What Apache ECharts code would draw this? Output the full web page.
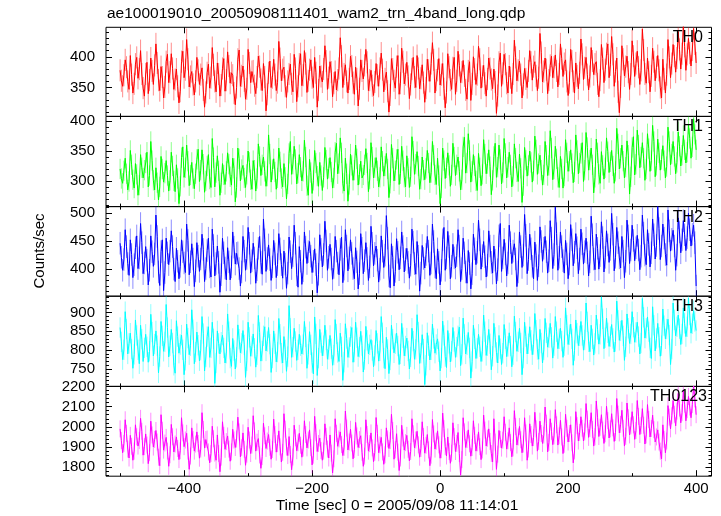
<!DOCTYPE html>
<html><head><meta charset="utf-8">
<script src="https://cdn.jsdelivr.net/npm/echarts@6/dist/echarts.min.js"></script>
<style>html,body{margin:0;padding:0;background:#fff}#c{width:721px;height:516px}</style>
</head><body><div id="c"></div>
<script>
const chartTitle = 'ae100019010_20050908111401_wam2_trn_4band_long.qdp';
const xTitle = 'Time [sec] 0 = 2005/09/08 11:14:01';
const yTitle = 'Counts/sec';
const bandNames = ['TH0', 'TH1', 'TH2', 'TH3', 'TH0123'];
const tStart = -500, tStep = 2;
const xRange = [-522, 424];
const xMajorTicks = [-400, -200, 0, 200, 400];
const xMinorTicks = [-500, -300, -100, 100, 300];
const yRanges = [[303, 448], [257, 408], [352, 511], [704, 943], [1756, 2200]];
const yMajorTicks = [[350, 400], [300, 350, 400], [400, 450, 500], [750, 800, 850, 900], [1800, 1900, 2000, 2100, 2200]];
const yMinorStep = [10, 10, 10, 10, 20];
const bandErrors = [18, 17, 20, 27, 42];

const th0 = [
378,361,352,370,395,383,360,347,402,371,341,356,388,399,365,380,410,372,349,336,
372,391,340,362,398,377,355,386,421,390,362,345,384,367,333,351,392,404,358,375,
405,381,347,363,380,352,325,344,392,409,366,379,428,396,351,368,376,355,338,360,
399,378,355,371,382,346,318,342,374,388,349,366,415,387,360,343,390,372,336,354,
381,397,344,362,408,385,357,374,370,341,322,350,396,411,352,369,385,361,331,348,
412,390,358,376,377,353,340,367,401,384,363,345,389,367,312,339,374,393,350,366,
396,371,345,358,425,397,361,379,383,352,334,360,372,388,356,343,404,381,327,352,
388,405,353,370,410,389,342,361,379,395,366,350,399,374,318,346,385,368,359,380,
418,393,347,366,392,375,335,357,376,346,362,381,431,401,350,372,387,360,341,364,
401,385,358,339,383,364,320,348,395,377,364,386,412,391,345,362,378,353,337,359,
389,370,352,381,406,379,343,364,375,344,310,338,397,380,361,349,384,402,339,357,
414,392,356,371,391,368,332,355,380,399,367,350,402,381,348,365,387,358,326,349,
396,378,360,389,423,395,341,362,378,397,354,371,389,348,317,342,405,383,362,347,
382,399,339,361,409,386,358,375,394,369,346,331,377,392,329,356,400,380,355,371,
417,396,349,368,386,357,336,364,398,381,363,348,380,359,308,337,391,406,352,373,
404,388,357,341,385,366,340,372,427,399,361,378,393,371,333,355,381,364,350,377,
410,391,362,384,392,369,345,366,438,407,359,376,398,379,340,362,386,401,366,383,
403,377,351,372,421,397,368,389,395,360,337,358,412,393,360,341,390,369,348,374,
429,404,363,382,399,371,346,368,415,393,371,388,392,356,335,362,420,397,358,379,
405,421,366,387,433,404,352,376,398,343,309,351,418,396,369,384,401,375,347,372,
426,401,368,389,409,383,355,378,445,411,372,357,398,375,343,369,414,392,361,383,
402,378,350,333,396,364,341,371,428,399,366,389,420,401,375,398,441,412,380,405,
452,417,378,404,430,406,385,411,446,421,390];

const th1 = [
320,304,296,317,338,312,285,299,351,327,302,288,329,311,276,293,344,322,305,318,
330,348,290,309,366,334,301,285,322,297,268,290,341,320,298,313,334,309,283,301,
348,325,300,282,327,304,262,291,339,357,306,322,360,333,292,310,331,304,287,312,
336,353,299,318,352,328,281,300,325,344,303,289,371,339,290,314,342,317,276,297,
329,310,294,316,347,328,307,293,338,321,265,289,355,337,300,319,326,305,289,311,
350,331,302,286,334,318,283,304,362,341,309,327,340,316,291,308,377,345,298,319,
337,315,286,305,355,332,304,290,329,306,270,295,346,366,311,328,358,336,295,313,
344,323,300,316,368,340,292,276,336,314,279,301,351,330,308,291,331,309,284,306,
356,335,303,321,339,315,288,305,348,363,312,329,372,347,296,283,338,312,266,294,
345,326,301,318,360,337,293,311,333,305,310,327,354,330,282,303,364,340,305,322,
339,317,290,306,357,333,308,325,346,320,272,296,361,338,300,317,336,353,294,312,
358,334,306,290,342,321,289,307,374,350,311,328,349,325,286,303,340,318,302,321,
351,330,297,314,366,343,310,294,338,309,262,288,355,334,304,322,347,326,291,310,
363,340,309,327,340,316,285,302,357,373,313,330,379,351,298,316,344,325,300,284,
346,322,292,311,369,345,312,329,352,324,277,301,341,363,306,323,360,336,295,314,
371,346,305,323,348,327,290,308,362,338,315,299,345,321,264,292,356,335,308,326,
350,331,298,317,375,352,311,329,343,318,293,310,366,343,309,326,384,355,302,320,
358,337,306,289,341,320,288,308,369,347,316,333,352,329,297,315,377,351,312,330,
346,364,299,318,381,356,318,335,355,327,280,306,370,347,311,296,349,326,303,322,
372,349,314,332,351,325,296,316,388,362,320,338,360,333,305,323,367,343,278,307,
356,374,310,328,385,360,322,340,364,338,301,320,379,354,316,334,393,366,307,326,
370,347,318,336,359,334,305,324,390,366,327,345,366,341,312,331,382,358,325,343,
376,352,330,348,395,371,338,357,404,378,352];

const th2 = [
446,421,398,417,470,440,410,389,452,426,385,408,438,459,401,420,481,447,392,411,
440,416,372,398,459,431,405,427,496,458,395,371,431,452,362,394,455,429,408,432,
468,440,400,378,437,414,383,405,452,431,411,394,480,451,390,413,445,418,369,397,
447,423,396,418,462,435,378,401,433,455,404,386,471,442,388,410,441,412,359,390,
455,429,402,381,438,413,381,404,466,439,409,428,429,401,370,395,458,432,398,419,
474,446,393,415,446,420,375,399,437,458,412,391,489,452,396,419,443,417,380,404,
451,427,385,408,463,436,408,384,432,409,366,393,457,431,401,424,478,446,390,368,
440,414,373,397,466,439,410,431,449,423,394,414,436,408,358,391,461,435,404,426,
485,450,398,421,444,418,382,403,458,432,411,390,435,457,376,400,470,441,397,420,
452,428,401,383,438,413,365,392,463,437,392,415,447,419,380,404,476,446,406,428,
441,416,377,400,459,432,403,425,495,455,388,367,445,421,370,396,454,430,399,420,
466,440,395,417,437,412,384,407,471,448,410,391,449,423,361,393,442,419,402,426,
458,432,389,411,480,449,404,383,436,412,372,398,452,474,398,420,467,440,383,405,
444,420,402,424,470,441,378,401,455,429,395,375,433,410,365,392,462,436,408,430,
487,452,400,424,449,422,386,407,468,441,412,393,441,416,374,399,459,481,396,420,
453,427,388,411,478,447,410,432,445,418,369,395,466,440,403,425,497,460,392,417,
462,436,405,383,448,424,380,406,475,449,414,437,458,431,393,415,486,455,401,426,
510,463,398,421,466,440,415,393,451,427,383,409,479,452,406,430,463,438,392,418,
471,445,409,431,455,429,388,413,494,461,418,399,462,437,400,424,484,456,395,421,
468,443,412,435,499,462,397,421,474,447,420,402,458,432,385,414,487,459,410,434,
478,451,415,438,460,434,399,423,496,464,425,408,470,444,404,429,489,461,418,442,
511,472,417,441,480,455,426,407,505,468,432,453,469,441,398,425,491,466,429,452,
486,461,433,456,499,470,441,462,478,447,370];

const th3 = [
860,822,775,801,902,856,790,818,845,803,752,789,880,839,801,764,866,829,770,806,
842,809,768,797,895,848,785,816,851,812,740,783,876,838,797,822,921,860,782,812,
855,819,760,739,878,836,792,815,840,801,735,773,869,832,788,812,907,854,764,795,
848,813,772,800,889,844,745,782,836,862,781,806,874,830,712,766,851,818,790,821,
840,806,766,792,896,849,779,757,831,799,750,781,867,829,793,818,852,814,728,772,
874,834,784,810,843,805,755,788,892,847,771,798,838,862,798,823,860,816,741,779,
851,817,769,795,884,842,792,766,836,801,744,783,918,858,781,808,858,823,773,801,
842,812,790,815,876,835,752,789,849,814,767,737,888,843,733,779,855,820,785,812,
866,827,776,802,839,804,760,787,881,843,794,770,845,809,720,768,870,831,781,807,
836,860,768,795,874,833,783,808,850,812,742,775,863,826,790,814,828,799,756,786,
852,818,771,798,889,846,779,751,834,802,738,774,866,829,793,817,845,811,762,790,
871,833,785,811,832,798,750,782,858,824,776,802,894,848,765,792,841,803,709,760,
846,812,774,801,869,831,792,815,830,796,745,779,877,839,783,754,852,818,769,797,
860,823,781,808,838,861,759,789,885,842,790,814,847,806,726,770,866,830,778,805,
842,809,770,797,893,849,786,812,855,817,748,784,871,834,794,766,839,804,762,792,
868,830,783,810,846,811,756,788,890,848,797,822,858,819,735,779,874,836,790,817,
862,826,788,815,897,853,802,776,855,819,766,801,884,846,808,833,871,834,779,812,
889,849,804,830,858,824,781,812,912,866,815,841,869,830,760,799,880,845,812,838,
876,839,800,827,925,875,822,796,866,830,787,818,893,855,816,842,941,883,804,833,
885,846,810,836,868,831,795,823,930,879,826,851,879,838,773,809,896,858,818,843,
902,861,821,847,874,836,790,819,937,887,832,858,888,849,806,778,915,866,798,831,
871,834,784,812,909,865,830,856,882,840,762,803,925,880,838,862,893,857,815,843,
912,871,836,862,938,893,845,870,905,876,852];

const th0123 = [
1990,1932,1872,1918,2035,1968,1890,1846,1958,1904,1835,1880,2010,1951,1905,1932,2042,1978,1860,1902,
1965,1910,1818,1872,2028,1960,1900,1938,1982,1925,1850,1808,2060,1983,1885,1920,1948,1880,1805,1862,
2012,1951,1876,1915,1950,1893,1838,1882,2045,1970,1902,1935,1968,1880,1790,1856,1995,1937,1880,1915,
1975,1918,1845,1890,2070,1987,1895,1937,1940,1876,1822,1868,2003,1941,1870,1835,1960,1868,1778,1850,
2025,1958,1889,1927,1955,1890,1830,1876,1988,1935,1898,1940,2048,1975,1852,1897,1970,1889,1810,1865,
1998,1935,1868,1910,2055,1980,1880,1924,1942,1861,1795,1853,2018,1956,1893,1930,1962,1899,1840,1888,
2038,1962,1875,1917,1980,1901,1826,1874,2065,1989,1900,1858,1952,1863,1788,1851,2008,1946,1882,1921,
1968,1909,1850,1895,2030,1962,1896,1935,1985,1897,1812,1860,2052,1971,1878,1918,1945,1883,1835,1880,
2015,1953,1890,1846,1960,1870,1772,1842,2040,1968,1904,1940,1975,1912,1858,1899,2078,1994,1886,1925,
1988,1920,1842,1888,2022,1955,1898,1937,1956,1874,1805,1855,2035,1962,1880,1917,1970,1896,1828,1874,
2046,1968,1872,1911,1948,1876,1815,1862,1995,1940,1893,1932,2062,1982,1840,1887,1966,1875,1784,1846,
2008,1945,1885,1922,1958,1889,1832,1878,2040,1966,1896,1935,1978,1911,1850,1893,2025,1952,1870,1909,
1962,1886,1808,1860,2036,1965,1890,1929,1980,1911,1845,1887,2068,1991,1902,1856,1950,1878,1820,1870,
2020,1952,1878,1918,1972,1868,1762,1838,2045,1975,1898,1937,1985,1916,1855,1898,2030,1958,1880,1921,
1975,1902,1838,1886,2058,1984,1905,1944,1990,1928,1868,1827,2040,1925,1790,1865,1982,1938,1895,1934,
2050,1973,1890,1931,1995,1922,1852,1896,2080,2001,1910,1950,2002,1936,1872,1915,2045,1970,1835,1890,
2015,1962,1905,1947,2072,1990,1880,1928,2028,1967,1918,1959,2098,2018,1876,1923,2040,1978,1912,1955,
2085,2010,1910,1956,2032,1950,1868,1914,2062,1993,1925,1967,2010,1921,1822,1881,2075,2006,1930,1972,
2050,1993,1930,1975,2115,2038,1948,1992,2070,1987,1905,1951,2128,2045,1952,1998,2060,1984,1918,1966,
2102,2031,1945,1990,2065,1995,1928,1972,2140,2063,1970,2012,2082,1993,1905,1953,2118,2045,1960,2005,
2075,2010,1938,1982,2130,2052,1962,2006,2090,2008,1915,1960,2110,2036,1950,1992,2058,1986,1925,1950,
1985,1925,1880,1842,2010,1938,1872,1930,2105,2048,1990,2055,2130,2062,2005,2078,2165,2093,2020,2070,
2180,2112,2030,2085,2150,2098,2045,2110,2205,2138,2060];

const bandValues = [th0, th1, th2, th3, th0123];
const bandColors = ['#ff0000', '#00ff00', '#0000ff', '#00ffff', '#ff00ff'];

const FONT = '"Liberation Sans", Arial, Helvetica, sans-serif';
const panelEdges = [27.3, 116.4, 206.6, 296.2, 386.4, 476.2];
const plotLeft = 106, plotRight = 711.5;

const grids = [], xAxes = [], yAxes = [], series = [];
const fmtX = v => String(v).replace('-', '\u2212');
const fmtY = v => String(v);

for (let i = 0; i < 5; i++) {
  grids.push({
    left: plotLeft, width: plotRight - plotLeft,
    top: panelEdges[i], height: panelEdges[i + 1] - panelEdges[i],
    show: true, borderColor: '#000', borderWidth: 1, backgroundColor: 'transparent'
  });
  const base = { type: 'value', gridIndex: i, min: xRange[0], max: xRange[1],
    axisLine: { show: false, onZero: false }, splitLine: { show: false } };
  [['bottom', 6, xMajorTicks, true], ['bottom', 3, xMinorTicks, false],
   ['top', 6, xMajorTicks, false], ['top', 3, xMinorTicks, false]].forEach(([pos, len, vals, lab]) => {
    xAxes.push(Object.assign({}, base, {
      position: pos,
      axisTick: { show: true, inside: true, length: len, customValues: vals, lineStyle: { color: '#000', width: 1 } },
      axisLabel: { show: lab && i === 4, customValues: vals, margin: 5, color: '#000', fontSize: 15, fontFamily: FONT, formatter: fmtX }
    }));
  });
  const [ymin, ymax] = yRanges[i];
  const minors = [];
  for (let v = Math.ceil(ymin / yMinorStep[i]) * yMinorStep[i]; v <= ymax; v += yMinorStep[i]) minors.push(v);
  const ybase = { type: 'value', gridIndex: i, min: ymin, max: ymax,
    axisLine: { show: false, onZero: false }, splitLine: { show: false } };
  [['left', 6, yMajorTicks[i], true], ['left', 3, minors, false],
   ['right', 6, yMajorTicks[i], false], ['right', 3, minors, false]].forEach(([pos, len, vals, lab]) => {
    yAxes.push(Object.assign({}, ybase, {
      position: pos,
      axisTick: { show: true, inside: true, length: len, customValues: vals, lineStyle: { color: '#000', width: 1 } },
      axisLabel: { show: lab, customValues: vals, margin: 11, color: '#000', fontSize: 15, fontFamily: FONT, formatter: fmtY }
    }));
  });
  const vals = bandValues[i];
  const pts = vals.map((v, k) => [tStart + k * tStep, v]);
  const err = bandErrors[i], col = bandColors[i];
  series.push({
    type: 'custom', xAxisIndex: 4 * i, yAxisIndex: 4 * i, data: pts, clip: true, silent: true, z: 1,
    renderItem: (params, api) => {
      const x = api.value(0), v = api.value(1);
      const a = api.coord([x, v - err]), b = api.coord([x, v + err]);
      return { type: 'line', shape: { x1: a[0], y1: a[1], x2: b[0], y2: b[1] },
        style: { stroke: col, lineWidth: 1, opacity: 0.45 } };
    }
  });
  series.push({
    type: 'line', xAxisIndex: 4 * i, yAxisIndex: 4 * i, data: pts,
    showSymbol: false, symbol: 'none', clip: true, z: 2,
    lineStyle: { color: col, width: 1 },
    itemStyle: { color: col },
    animation: false, silent: true
  });
}

const labelRight = [703, 703, 703, 703, 707];
const graphics = [
  { type: 'text', left: 107, top: 6, style: { text: chartTitle, font: '15.5px ' + FONT, fill: '#000' } },
  { type: 'text', x: 397, y: 506, style: { text: xTitle, font: '15.5px ' + FONT, fill: '#000', align: 'center', verticalAlign: 'middle' } },
  { type: 'text', x: 40, y: 251, rotation: Math.PI / 2, style: { text: yTitle, font: '15px ' + FONT, fill: '#000', align: 'center', verticalAlign: 'middle' } }
];
bandNames.forEach((n, i) => {
  graphics.push({ type: 'text', x: labelRight[i], y: panelEdges[i] + 10.5, z: 100,
    style: { text: n, font: '16px ' + FONT, fill: '#000', align: 'right', verticalAlign: 'middle' } });
});

const chart = echarts.init(document.getElementById('c'), null, { renderer: 'canvas' });
chart.setOption({
  animation: false,
  backgroundColor: '#fff',
  grid: grids, xAxis: xAxes, yAxis: yAxes, series: series,
  graphic: graphics
});
</script></body></html>
